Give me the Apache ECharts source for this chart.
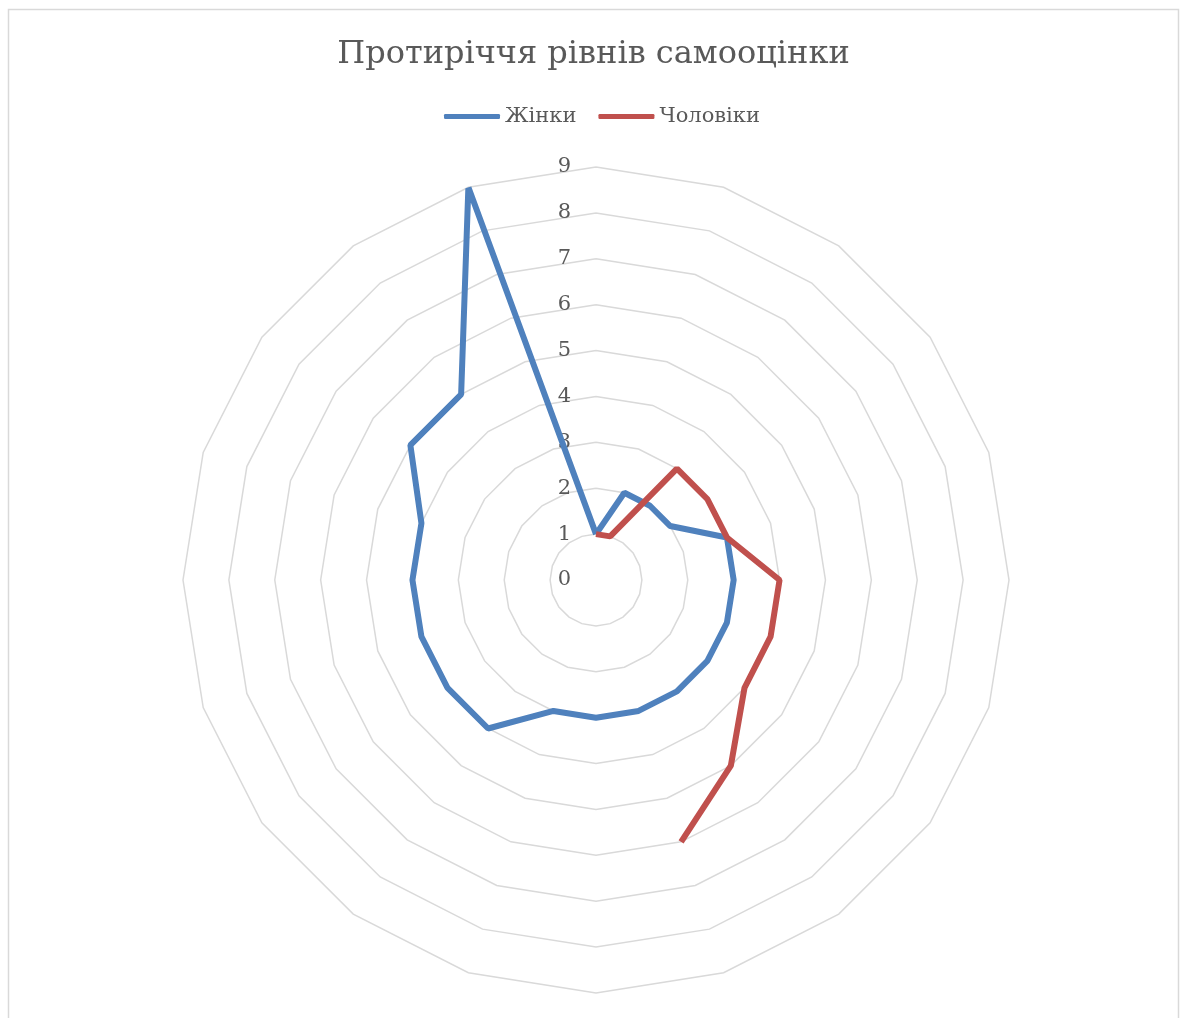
<!DOCTYPE html>
<html>
<head>
<meta charset="utf-8">
<title>Протиріччя рівнів самооцінки</title>
<script src="https://cdn.jsdelivr.net/npm/echarts@6/dist/echarts.min.js"></script>
<style>
  html, body { margin: 0; padding: 0; background: #ffffff; }
  #chart { width: 1187px; height: 1018px; }
</style>
</head>
<body>
<div id="chart"></div>
<script>
// Spokes of the radar, clockwise from the top
const spokes = ['1','2','3','4','5','6','7','8','9','10','11','12','13','14','15','16','17','18','19','20'];
// Scale ticks shown along the top spoke
const tickLabels = ['0','1','2','3','4','5','6','7','8','9'];
// Series values per spoke (null = no value)
const women = [1, 2, 2, 2, 3, 3, 3, 3, 3, 3, 3, 3, 4, 4, 4, 4, 4, 5, 5, 9];
const men   = [1, 1, 3, 3, 3, 4, 4, 4, 5, 6, null, null, null, null, null, null, null, null, null, null];

const seriesNames = ['Жінки', 'Чоловіки'];
const FONT = '"DejaVu Serif", "Liberation Serif", serif';
const TEXT = '#595959';
const CX = 596, CY = 580, R = 413;
const maxVal = Number(tickLabels[tickLabels.length - 1]);

// polar points: [radius value, spoke index]; the closed ring repeats the first value at a full turn
function toPolar(values, close) {
  const pts = values.map((v, i) => [v == null ? '-' : v, i]);
  if (close) pts.push([values[0], spokes.length]);
  return pts;
}

const chart = echarts.init(document.getElementById('chart'), null, { renderer: 'canvas' });
chart.setOption({
  animation: false,
  backgroundColor: '#ffffff',
  title: {
    text: 'Протиріччя рівнів самооцінки',
    left: 'center',
    top: 34,
    textStyle: { fontFamily: FONT, fontSize: 32, fontWeight: 'normal', color: TEXT }
  },
  legend: {
    data: seriesNames,
    top: 101,
    left: 439,
    icon: 'roundRect',
    itemWidth: 56,
    itemHeight: 5,
    itemGap: 22,
    textStyle: { fontFamily: FONT, fontSize: 21, color: TEXT }
  },
  graphic: [{
    type: 'rect',
    shape: { x: 8.5, y: 9.5, width: 1170, height: 1030 },
    style: { fill: 'none', stroke: '#d9d9d9', lineWidth: 1.5 },
    silent: true
  }],
  radar: {
    center: [CX, CY],
    radius: R,
    startAngle: 90,
    shape: 'polygon',
    splitNumber: tickLabels.length - 1,
    indicator: spokes.map(() => ({ name: '', min: 0, max: maxVal })),
    axisName: { show: false },
    axisLine: { show: false },
    axisTick: { show: false },
    axisLabel: { show: false },
    splitArea: { show: false },
    splitLine: { lineStyle: { color: '#d9d9d9', width: 1.5 } }
  },
  polar: { center: [CX, CY], radius: R },
  angleAxis: {
    type: 'value',
    min: 0,
    max: spokes.length,
    startAngle: 90,
    clockwise: true,
    show: false
  },
  radiusAxis: {
    type: 'value',
    min: 0,
    max: maxVal,
    interval: 1,
    axisLine: { show: false },
    axisTick: { show: false },
    splitLine: { show: false },
    axisLabel: {
      show: true,
      color: TEXT,
      fontFamily: FONT,
      fontSize: 21,
      margin: 25,
      formatter: (v) => tickLabels[v]
    }
  },
  series: [
    {
      name: seriesNames[0],
      type: 'line',
      coordinateSystem: 'polar',
      data: toPolar(women, true),
      symbol: 'none',
      color: '#4F81BD',
      lineStyle: { color: '#4F81BD', width: 6 },
      z: 3
    },
    {
      name: seriesNames[1],
      type: 'line',
      coordinateSystem: 'polar',
      data: toPolar(men, false),
      symbol: 'none',
      connectNulls: false,
      color: '#C0504D',
      lineStyle: { color: '#C0504D', width: 6 },
      z: 4
    }
  ]
});
</script>
</body>
</html>
